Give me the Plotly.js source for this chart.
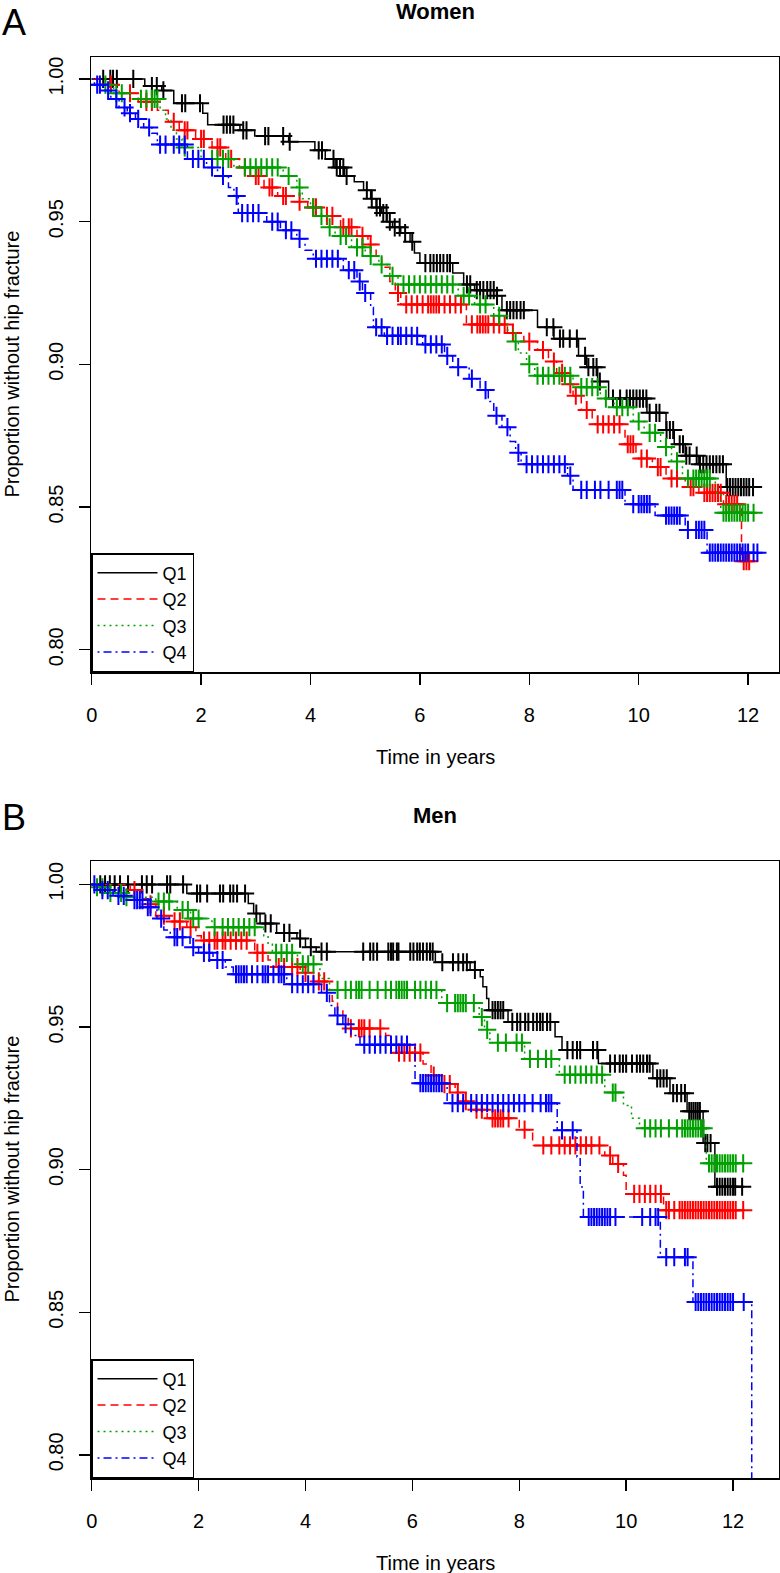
<!DOCTYPE html>
<html>
<head>
<meta charset="utf-8">
<script src="https://cdn.plot.ly/plotly-3.0.1.min.js"></script>
<style>
  html, body { margin: 0; padding: 0; background: #fff; }
  #chart { width: 780px; height: 1573px; }
</style>
</head>
<body>
<div id="chart"></div>
<script>
// Kaplan-Meier curves: event times (years), survival after each event, censoring times
const groupNames = ['Q1', 'Q2', 'Q3', 'Q4'];

const womenQ1Time = [0.97, 1.28, 1.5, 2.03, 2.12, 2.71, 2.98, 3.6, 4.08, 4.27, 4.45, 4.62, 4.8, 4.97, 5.1, 5.2, 5.3, 5.4, 5.5, 5.65, 5.82, 5.9, 6.0, 6.6, 6.8, 7.0, 7.4, 7.5, 8.15, 8.45, 8.9, 9.05, 9.25, 9.45, 10.15, 10.5, 10.65, 10.85, 11.1, 11.6];
const womenQ1Surv = [0.9975, 0.996, 0.9915, 0.988, 0.984, 0.982, 0.980, 0.978, 0.975, 0.972, 0.969, 0.966, 0.964, 0.961, 0.958, 0.955, 0.953, 0.950, 0.948, 0.946, 0.943, 0.939, 0.9355, 0.932, 0.928, 0.926, 0.924, 0.919, 0.913, 0.909, 0.903, 0.899, 0.894, 0.888, 0.883, 0.877, 0.872, 0.868, 0.865, 0.857];
const womenQ1Cens = [0.21, 0.34, 0.39, 0.46, 0.76, 1.1, 1.19, 1.31, 1.65, 1.71, 1.98, 2.41, 2.47, 2.53, 2.59, 2.77, 2.83, 3.17, 3.23, 3.5, 3.62, 4.15, 4.21, 4.42, 4.48, 4.54, 4.6, 4.66, 5.03, 5.12, 5.21, 5.27, 5.33, 5.39, 5.45, 5.54, 5.63, 5.73, 5.86, 6.1, 6.19, 6.25, 6.31, 6.37, 6.43, 6.5, 6.55, 6.86, 6.92, 7.04, 7.1, 7.16, 7.23, 7.29, 7.35, 7.41, 7.59, 7.65, 7.71, 7.77, 7.84, 7.9, 8.32, 8.44, 8.56, 8.62, 8.74, 8.87, 9.02, 9.08, 9.17, 9.23, 9.29, 9.53, 9.66, 9.78, 9.84, 9.9, 9.96, 10.02, 10.08, 10.14, 10.2, 10.32, 10.38, 10.51, 10.57, 10.63, 10.75, 10.81, 10.87, 10.93, 11.06, 11.12, 11.18, 11.24, 11.3, 11.36, 11.42, 11.48, 11.54, 11.62, 11.67, 11.72, 11.77, 11.82, 11.87, 11.92, 11.97, 12.02, 12.09];

const womenQ2Time = [0.25, 0.5, 0.85, 1.2, 1.4, 1.6, 1.9, 2.2, 2.45, 2.7, 2.9, 3.15, 3.4, 3.7, 3.95, 4.2, 4.55, 4.85, 5.05, 5.2, 5.3, 5.45, 5.55, 5.65, 6.85, 7.6, 7.9, 8.15, 8.35, 8.5, 8.65, 8.8, 8.95, 9.15, 9.75, 9.95, 10.25, 10.5, 10.85, 11.1, 11.55, 11.88];
const womenQ2Surv = [0.998, 0.995, 0.992, 0.989, 0.985, 0.982, 0.979, 0.976, 0.972, 0.969, 0.966, 0.962, 0.959, 0.957, 0.955, 0.952, 0.948, 0.945, 0.942, 0.938, 0.934, 0.929, 0.925, 0.921, 0.914, 0.911, 0.908, 0.905, 0.901, 0.897, 0.893, 0.889, 0.884, 0.879, 0.872, 0.867, 0.864, 0.860, 0.857, 0.855, 0.851, 0.831];
const womenQ2Cens = [0.35, 0.7, 1.0, 1.1, 1.5, 1.7, 1.75, 2.0, 2.05, 2.3, 2.35, 2.55, 2.8, 3.0, 3.05, 3.25, 3.3, 3.5, 3.55, 3.8, 4.05, 4.1, 4.3, 4.4, 4.6, 4.7, 4.75, 4.95, 5.1, 5.6, 5.75, 5.85, 5.95, 6.05, 6.15, 6.2, 6.25, 6.3, 6.35, 6.45, 6.55, 6.65, 6.75, 6.95, 7.05, 7.1, 7.15, 7.2, 7.25, 7.35, 7.45, 7.55, 7.7, 8.0, 8.25, 8.45, 8.6, 8.75, 8.85, 9.05, 9.25, 9.35, 9.45, 9.55, 9.65, 9.8, 9.85, 9.9, 10.05, 10.15, 10.35, 10.4, 10.6, 10.7, 10.95, 11.0, 11.2, 11.25, 11.3, 11.35, 11.4, 11.45, 11.5, 11.6, 11.65, 11.7, 11.75, 11.8, 11.92, 11.97, 12.02];

const womenQ3Time = [0.1, 0.4, 0.7, 1.25, 1.35, 1.45, 1.55, 1.65, 2.0, 2.6, 3.5, 3.75, 3.85, 4.0, 4.1, 4.3, 4.45, 4.75, 5.0, 5.25, 5.45, 5.6, 6.7, 7.0, 7.35, 7.6, 7.7, 7.8, 7.95, 8.1, 8.8, 9.3, 9.55, 9.9, 10.1, 10.4, 10.6, 10.8, 11.4, 11.5];
const womenQ3Surv = [0.998, 0.995, 0.993, 0.989, 0.986, 0.982, 0.979, 0.976, 0.972, 0.969, 0.966, 0.962, 0.958, 0.955, 0.952, 0.948, 0.945, 0.941, 0.938, 0.935, 0.931, 0.928, 0.924, 0.921, 0.917, 0.912, 0.908, 0.904, 0.900, 0.896, 0.892, 0.888, 0.885, 0.880, 0.876, 0.871, 0.866, 0.860, 0.855, 0.848];
const womenQ3Cens = [0.25, 0.45, 0.55, 0.9, 1.0, 1.1, 1.15, 1.2, 1.7, 2.2, 2.3, 2.4, 2.5, 2.8, 2.9, 3.0, 3.1, 3.2, 3.3, 3.4, 3.6, 3.8, 4.05, 4.2, 4.35, 4.55, 4.65, 4.85, 4.95, 5.1, 5.3, 5.5, 5.7, 5.8, 5.9, 6.0, 6.1, 6.2, 6.3, 6.4, 6.5, 6.6, 6.8, 6.9, 7.1, 7.2, 7.45, 7.75, 8.0, 8.15, 8.25, 8.35, 8.45, 8.55, 8.65, 8.75, 8.95, 9.05, 9.15, 9.25, 9.4, 9.6, 9.7, 9.8, 10.0, 10.2, 10.3, 10.5, 10.7, 10.9, 11.0, 11.05, 11.1, 11.15, 11.2, 11.25, 11.3, 11.55, 11.6, 11.65, 11.7, 11.75, 11.8, 11.85, 11.9, 11.95, 12.0, 12.1];

const womenQ4Time = [0.05, 0.2, 0.35, 0.5, 0.65, 0.8, 0.95, 1.1, 1.2, 1.75, 2.1, 2.3, 2.5, 2.6, 2.68, 3.2, 3.45, 3.75, 3.9, 4.05, 4.6, 4.85, 4.95, 5.1, 5.15, 5.35, 6.05, 6.45, 6.6, 6.9, 7.1, 7.25, 7.35, 7.5, 7.65, 7.75, 7.85, 8.7, 8.8, 9.75, 10.3, 10.85, 11.25];
const womenQ4Surv = [0.998, 0.996, 0.993, 0.990, 0.988, 0.986, 0.983, 0.981, 0.977, 0.972, 0.969, 0.966, 0.962, 0.959, 0.953, 0.950, 0.947, 0.944, 0.940, 0.937, 0.933, 0.929, 0.925, 0.920, 0.913, 0.910, 0.907, 0.903, 0.899, 0.895, 0.891, 0.887, 0.882, 0.878, 0.873, 0.869, 0.865, 0.861, 0.856, 0.851, 0.847, 0.842, 0.834];
const womenQ4Cens = [0.1, 0.15, 0.3, 0.45, 0.6, 0.7, 0.85, 1.05, 1.25, 1.35, 1.5, 1.6, 1.7, 1.85, 1.95, 2.05, 2.2, 2.4, 2.65, 2.75, 2.85, 2.95, 3.05, 3.3, 3.4, 3.55, 3.65, 3.8, 4.1, 4.2, 4.3, 4.4, 4.5, 4.7, 4.8, 4.9, 5.0, 5.2, 5.3, 5.4, 5.5, 5.6, 5.65, 5.75, 5.85, 5.95, 6.1, 6.2, 6.3, 6.4, 6.5, 6.7, 6.95, 7.2, 7.4, 7.6, 7.8, 7.95, 8.05, 8.15, 8.25, 8.35, 8.45, 8.55, 8.65, 8.75, 8.95, 9.05, 9.2, 9.3, 9.45, 9.6, 9.65, 9.7, 9.9, 10.0, 10.05, 10.1, 10.15, 10.2, 10.5, 10.55, 10.6, 10.65, 10.7, 10.75, 10.9, 11.05, 11.1, 11.15, 11.2, 11.3, 11.35, 11.4, 11.45, 11.5, 11.55, 11.6, 11.65, 11.7, 11.75, 11.8, 11.85, 11.9, 11.95, 12.0, 12.1, 12.17];

const menQ1Time = [1.78, 2.93, 3.03, 3.15, 3.46, 3.84, 4.0, 4.2, 6.43, 7.08, 7.27, 7.32, 7.39, 7.43, 7.79, 8.67, 8.8, 9.48, 10.5, 10.82, 11.14, 11.44, 11.66];
const menQ1Surv = [0.9968, 0.9933, 0.9898, 0.9863, 0.983, 0.981, 0.978, 0.9764, 0.9727, 0.970, 0.9676, 0.9641, 0.960, 0.9559, 0.9518, 0.9466, 0.9419, 0.9372, 0.932, 0.9268, 0.9205, 0.9093, 0.894];
const menQ1Cens = [0.16, 0.25, 0.34, 0.43, 0.53, 0.68, 0.94, 1.03, 1.13, 1.41, 1.47, 1.71, 1.97, 2.03, 2.16, 2.4, 2.46, 2.59, 2.65, 2.72, 2.87, 3.08, 3.25, 3.35, 3.6, 3.7, 3.9, 4.1, 4.3, 4.4, 5.08, 5.21, 5.27, 5.34, 5.55, 5.6, 5.64, 5.71, 5.74, 5.96, 6.02, 6.09, 6.14, 6.2, 6.27, 6.33, 6.38, 6.56, 6.76, 6.86, 6.95, 7.02, 7.17, 7.5, 7.55, 7.6, 7.65, 7.7, 7.87, 7.96, 8.02, 8.11, 8.17, 8.26, 8.33, 8.39, 8.44, 8.52, 8.58, 8.9, 9.0, 9.08, 9.14, 9.38, 9.46, 9.7, 9.79, 9.88, 9.94, 10.0, 10.11, 10.2, 10.26, 10.32, 10.39, 10.44, 10.58, 10.64, 10.7, 10.76, 10.88, 10.95, 11.03, 11.1, 11.18, 11.22, 11.26, 11.3, 11.34, 11.38, 11.48, 11.52, 11.58, 11.7, 11.75, 11.8, 11.85, 11.9, 11.95, 12.0, 12.04, 12.17];

const menQ2Time = [0.72, 0.9, 1.05, 1.2, 1.45, 1.78, 1.95, 2.05, 3.05, 3.3, 3.45, 3.9, 4.15, 4.4, 4.5, 4.6, 4.7, 4.8, 5.5, 5.6, 6.2, 6.35, 6.5, 6.8, 6.95, 7.1, 7.4, 8.0, 8.25, 9.6, 9.75, 9.95, 10.0, 10.7];
const menQ2Surv = [0.998, 0.995, 0.993, 0.989, 0.987, 0.985, 0.982, 0.9803, 0.976, 0.9735, 0.971, 0.969, 0.966, 0.963, 0.959, 0.956, 0.953, 0.9495, 0.947, 0.941, 0.937, 0.933, 0.930, 0.927, 0.924, 0.921, 0.918, 0.914, 0.9085, 0.905, 0.902, 0.898, 0.8915, 0.8858];
const menQ2Cens = [0.8, 1.1, 1.35, 1.55, 1.65, 1.85, 2.1, 2.2, 2.3, 2.35, 2.45, 2.5, 2.6, 2.7, 2.8, 2.9, 3.1, 3.2, 3.5, 3.6, 3.75, 3.85, 4.0, 4.25, 4.35, 4.85, 5.0, 5.05, 5.1, 5.2, 5.4, 5.75, 5.85, 5.95, 6.05, 6.15, 6.4, 6.6, 6.7, 6.85, 7.0, 7.2, 7.3, 7.5, 7.55, 7.6, 7.65, 7.7, 7.8, 8.1, 8.45, 8.6, 8.75, 8.85, 8.95, 9.05, 9.15, 9.25, 9.35, 9.5, 9.7, 9.85, 10.15, 10.25, 10.35, 10.45, 10.55, 10.65, 10.75, 10.8, 10.9, 11.0, 11.05, 11.1, 11.15, 11.2, 11.25, 11.3, 11.35, 11.4, 11.45, 11.5, 11.55, 11.6, 11.65, 11.7, 11.75, 11.8, 11.85, 11.9, 11.95, 12.0, 12.05, 12.19];

const menQ3Time = [0.05, 0.3, 0.6, 1.2, 1.6, 1.85, 2.25, 3.22, 3.3, 3.38, 3.85, 4.27, 4.45, 6.55, 7.25, 7.35, 7.45, 8.1, 8.75, 9.6, 9.95, 10.1, 10.25, 11.5];
const menQ3Surv = [0.999, 0.997, 0.9955, 0.994, 0.991, 0.988, 0.985, 0.982, 0.979, 0.976, 0.972, 0.967, 0.963, 0.9584, 0.9535, 0.949, 0.9445, 0.9388, 0.9333, 0.927, 0.9225, 0.918, 0.9145, 0.9022];
const menQ3Cens = [0.1, 0.2, 0.35, 0.55, 0.65, 1.25, 1.35, 1.45, 1.7, 1.8, 1.9, 2.0, 2.3, 2.45, 2.55, 2.65, 2.75, 2.85, 2.95, 3.05, 3.45, 3.55, 3.65, 3.75, 3.95, 4.05, 4.15, 4.6, 4.75, 4.85, 4.95, 5.0, 5.05, 5.2, 5.35, 5.5, 5.6, 5.7, 5.75, 5.8, 5.85, 5.9, 6.05, 6.15, 6.25, 6.35, 6.45, 6.65, 6.8, 6.85, 6.9, 6.95, 7.0, 7.15, 7.3, 7.4, 7.6, 7.75, 7.95, 8.05, 8.2, 8.35, 8.5, 8.6, 8.85, 8.95, 9.05, 9.15, 9.25, 9.35, 9.45, 9.55, 9.75, 9.8, 10.35, 10.45, 10.55, 10.65, 10.8, 10.95, 11.05, 11.1, 11.15, 11.2, 11.25, 11.3, 11.35, 11.4, 11.45, 11.55, 11.6, 11.65, 11.7, 11.75, 11.8, 11.85, 11.9, 11.95, 12.0, 12.05, 12.19];

const menQ4Time = [0.1, 0.4, 0.72, 1.0, 1.22, 1.35, 1.47, 1.84, 2.0, 2.27, 2.5, 2.65, 3.65, 4.3, 4.45, 4.55, 4.7, 4.85, 5.02, 6.05, 6.65, 8.71, 9.08, 9.14, 9.2, 10.64, 11.25, 12.35];
const menQ4Surv = [0.998, 0.996, 0.9945, 0.992, 0.988, 0.984, 0.9815, 0.978, 0.976, 0.9735, 0.971, 0.9685, 0.965, 0.962, 0.9575, 0.954, 0.951, 0.947, 0.9438, 0.9303, 0.9233, 0.9138, 0.9044, 0.8939, 0.8834, 0.8693, 0.8536, 0.70];
const menQ4Cens = [0.05, 0.2, 0.3, 0.5, 0.6, 0.8, 0.85, 0.9, 0.95, 1.05, 1.1, 1.3, 1.55, 1.6, 1.7, 1.9, 2.1, 2.2, 2.35, 2.45, 2.7, 2.75, 2.8, 2.85, 2.9, 3.0, 3.1, 3.2, 3.25, 3.3, 3.4, 3.5, 3.55, 3.6, 3.75, 3.85, 3.95, 4.05, 4.15, 4.4, 4.6, 4.75, 5.1, 5.2, 5.3, 5.4, 5.5, 5.6, 5.7, 5.8, 5.9, 6.15, 6.2, 6.25, 6.3, 6.35, 6.4, 6.45, 6.5, 6.55, 6.75, 6.85, 6.95, 7.1, 7.2, 7.3, 7.4, 7.5, 7.6, 7.7, 7.8, 7.9, 8.0, 8.1, 8.25, 8.4, 8.5, 8.55, 8.6, 8.8, 9.0, 9.3, 9.35, 9.4, 9.45, 9.5, 9.55, 9.6, 9.65, 9.7, 9.8, 10.3, 10.45, 10.55, 10.6, 10.75, 10.9, 11.1, 11.15, 11.3, 11.35, 11.4, 11.45, 11.5, 11.55, 11.6, 11.65, 11.7, 11.75, 11.8, 11.85, 11.9, 11.95, 12.0, 12.2];

const xTicks = [0, 2, 4, 6, 8, 10, 12];
const yTicks = [0.80, 0.85, 0.90, 0.95, 1.00];

const COLORS = ['#000000', '#ff0000', '#00a000', '#0000ff'];
const DASHES = ['solid', '8px,5px', '2px,4px', '2px,4px,8px,4px'];
const FONT = 'Liberation Sans, Arial, Helvetica, sans-serif';

// page geometry (px)
const W = 780, H = 1573;
const M = { l: 91, r: 1, t: 57, b: 95 };
const plotH = H - M.t - M.b;
const py2paper = py => (H - M.b - py) / plotH;
const px2paper = px => (px - M.l) / (W - M.l - M.r);

const panels = [
    { name: 'Women', letter: 'A', xa: 'x', ya: 'y', legend: 'legend', top: 57, bottom: 672, xmax: 12.565, yr: [0.7922, 1.0077],
      curves: [[womenQ1Time, womenQ1Surv, womenQ1Cens], [womenQ2Time, womenQ2Surv, womenQ2Cens], [womenQ3Time, womenQ3Surv, womenQ3Cens], [womenQ4Time, womenQ4Surv, womenQ4Cens]] },
    { name: 'Men', letter: 'B', xa: 'x2', ya: 'y2', legend: 'legend2', top: 861, bottom: 1478, xmax: 12.86, yr: [0.7919, 1.0082],
      curves: [[menQ1Time, menQ1Surv, menQ1Cens], [menQ2Time, menQ2Surv, menQ2Cens], [menQ3Time, menQ3Surv, menQ3Cens], [menQ4Time, menQ4Surv, menQ4Cens]] }
];

function survAt(times, surv, t) {
    let s = 1;
    for (let i = 0; i < times.length; i++) {
        if (times[i] <= t) s = surv[i]; else break;
    }
    return s;
}

const traces = [];
panels.forEach(p => {
    p.curves.forEach(([times, surv, cens], i) => {
        const end = Math.max(times[times.length - 1], cens[cens.length - 1]);
        traces.push({
            type: 'scatter', mode: 'lines', name: groupNames[i],
            x: [0, ...times, end], y: [1, ...surv, surv[surv.length - 1]],
            xaxis: p.xa, yaxis: p.ya, legend: p.legend,
            line: { color: COLORS[i], width: 1.5, dash: DASHES[i], shape: 'hv' },
            hoverinfo: 'skip'
        });
        traces.push({
            type: 'scatter', mode: 'markers', showlegend: false,
            x: cens, y: cens.map(t => survAt(times, surv, t)),
            xaxis: p.xa, yaxis: p.ya,
            marker: { symbol: 'cross-thin', size: 13, color: COLORS[i], line: { width: 2, color: COLORS[i] } },
            hoverinfo: 'skip'
        });
    });
});

const axisBase = {
    showgrid: false, zeroline: false, showline: true, mirror: true,
    linecolor: '#000', linewidth: 1.5, ticks: 'outside', ticklen: 11, tickwidth: 1.5, tickcolor: '#000',
    tickfont: { family: FONT, size: 20, color: '#000' }, fixedrange: true
};

const layout = {
    width: W, height: H, margin: M,
    paper_bgcolor: '#fff', plot_bgcolor: '#fff',
    font: { family: FONT, color: '#000' },
    hovermode: false,
    annotations: [],
    showlegend: true
};

panels.forEach((p, k) => {
    const sfx = k === 0 ? '' : '2';
    const domain = [py2paper(p.bottom), py2paper(p.top)];
    layout['xaxis' + sfx] = Object.assign({}, axisBase, {
        anchor: p.ya, range: [-0.013, p.xmax], tickvals: xTicks, ticklabelstandoff: 13
    });
    layout['yaxis' + sfx] = Object.assign({}, axisBase, {
        anchor: p.xa, domain: domain, range: p.yr, tickvals: yTicks, tickformat: '.2f', tickangle: -90, ticklabelstandoff: 8
    });
    layout[p.legend] = {
        x: 0, xanchor: 'left', y: py2paper(p.bottom - 119), yanchor: 'top',
        bgcolor: '#fff', bordercolor: '#000', borderwidth: 1.5, itemwidth: 60,
        font: { family: FONT, size: 18, color: '#000' }, traceorder: 'normal', itemclick: false, itemdoubleclick: false
    };
    const mid = (p.top + p.bottom) / 2;
    layout.annotations.push(
        { text: '<b>' + p.name + '</b>', x: 0.5, y: py2paper(p.top - 45), xref: 'paper', yref: 'paper', showarrow: false, font: { size: 22 }, yanchor: 'middle' },
        { text: p.letter, x: px2paper(0), y: py2paper(p.top - 57), xref: 'paper', yref: 'paper', showarrow: false, font: { size: 36 }, xanchor: 'left', yanchor: 'top' },
        { text: 'Time in years', x: 0.5, y: py2paper(p.bottom + 85), xref: 'paper', yref: 'paper', showarrow: false, font: { size: 20 }, yanchor: 'middle' },
        { text: 'Proportion without hip fracture', x: px2paper(11), y: py2paper(mid), xref: 'paper', yref: 'paper', showarrow: false, font: { size: 20 }, textangle: -90, xanchor: 'center', yanchor: 'middle' }
    );
});
// panel B letter sits a touch higher relative to its plot than panel A's does
layout.annotations[5].y = py2paper(795);

Plotly.newPlot('chart', traces, layout, { displayModeBar: false, staticPlot: true });
</script>
</body>
</html>
